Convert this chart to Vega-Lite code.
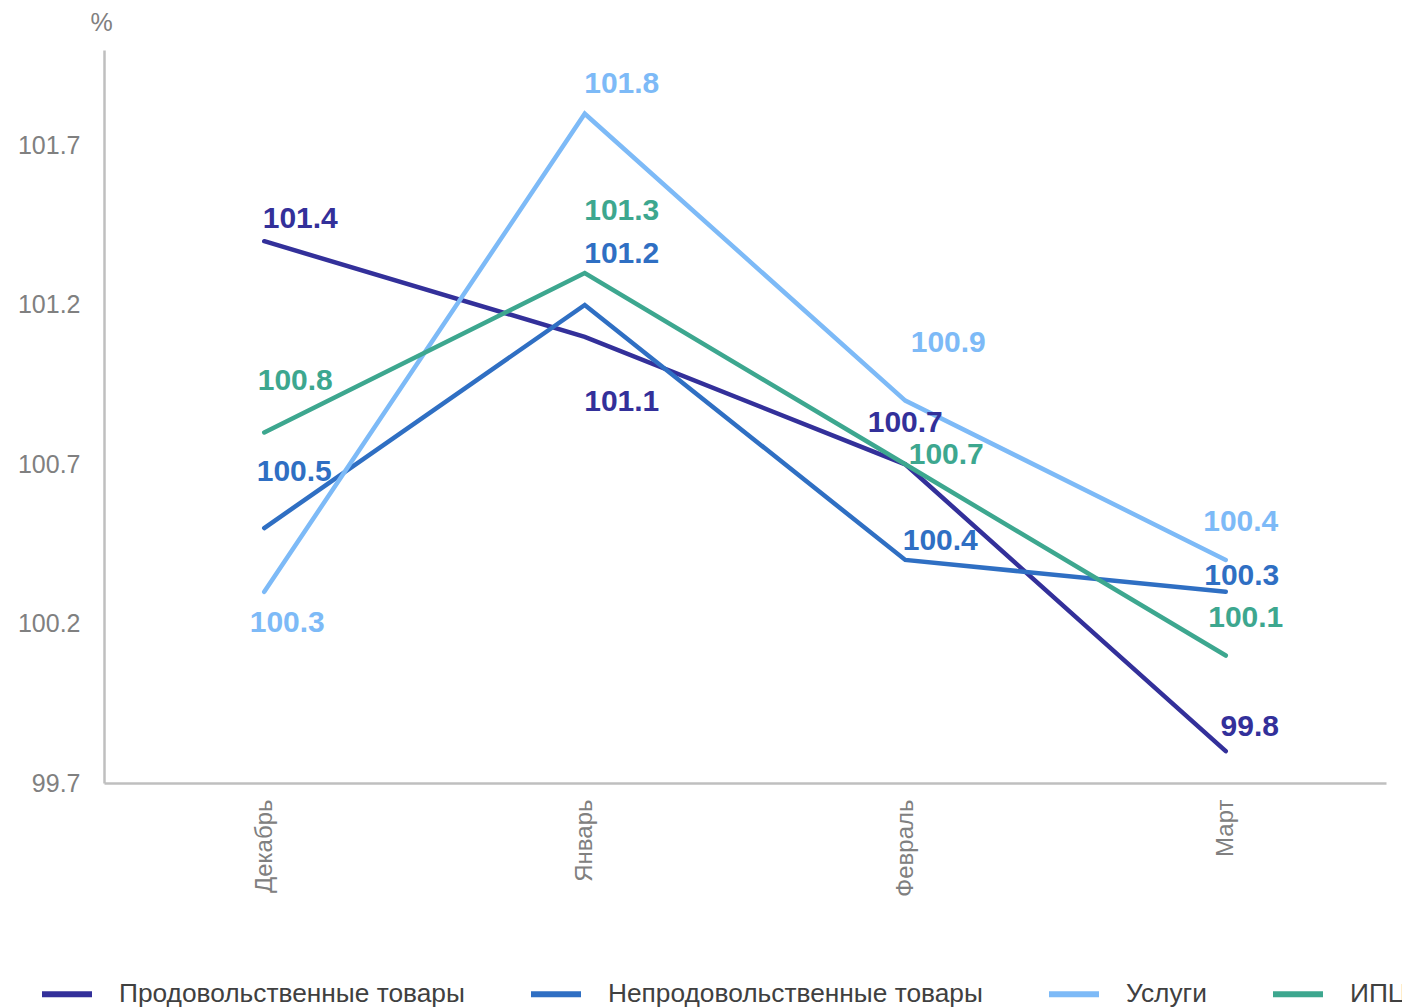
{
  "$schema": "https://vega.github.io/schema/vega-lite/v6.json",
  "autosize": "none",
  "width": 1282,
  "height": 733,
  "padding": {"left": 104, "top": 50, "right": 16, "bottom": 224},
  "background": "white",
  "config": {
    "font": "Liberation Sans",
    "view": {"stroke": null},
    "axis": {"grid": false, "ticks": false, "domainColor": "#BFBFBF", "domainWidth": 2.5, "labelColor": "#808080", "labelFont": "Liberation Sans", "titleColor": "#808080", "titleFont": "Liberation Sans"}
  },
  "data": {
    "values": [
      {"month": "Декабрь", "series": "Продовольственные товары", "value": 101.4},
      {"month": "Январь", "series": "Продовольственные товары", "value": 101.1},
      {"month": "Февраль", "series": "Продовольственные товары", "value": 100.7},
      {"month": "Март", "series": "Продовольственные товары", "value": 99.8},
      {"month": "Декабрь", "series": "Непродовольственные товары", "value": 100.5},
      {"month": "Январь", "series": "Непродовольственные товары", "value": 101.2},
      {"month": "Февраль", "series": "Непродовольственные товары", "value": 100.4},
      {"month": "Март", "series": "Непродовольственные товары", "value": 100.3},
      {"month": "Декабрь", "series": "Услуги", "value": 100.3},
      {"month": "Январь", "series": "Услуги", "value": 101.8},
      {"month": "Февраль", "series": "Услуги", "value": 100.9},
      {"month": "Март", "series": "Услуги", "value": 100.4},
      {"month": "Декабрь", "series": "ИПЦ", "value": 100.8},
      {"month": "Январь", "series": "ИПЦ", "value": 101.3},
      {"month": "Февраль", "series": "ИПЦ", "value": 100.7},
      {"month": "Март", "series": "ИПЦ", "value": 100.1}
    ]
  },
  "encoding": {
    "x": {
      "field": "month", "type": "nominal",
      "sort": ["Декабрь", "Январь", "Февраль", "Март"],
      "scale": {"type": "point", "padding": 0.5},
      "axis": {"title": null, "labelAngle": -90, "labelFontSize": 24, "labelPadding": 16, "labelAlign": "right", "labelBaseline": "middle"}
    },
    "y": {
      "field": "value", "type": "quantitative",
      "scale": {"domain": [99.7, 102.0], "nice": false, "zero": false},
      "axis": {"values": [99.7, 100.2, 100.7, 101.2, 101.7], "format": ".1f", "labelFontSize": 25, "labelPadding": 24,
        "title": "%", "titleAngle": 0, "titleFontSize": 25, "titleFontWeight": "normal", "titleX": -3, "titleY": -28, "titleAlign": "center", "titleBaseline": "middle"}
    },
    "color": {
      "field": "series", "type": "nominal",
      "scale": {"domain": ["Продовольственные товары", "Непродовольственные товары", "Услуги", "ИПЦ"], "range": ["#33309A", "#2F6FC3", "#7DBAF7", "#3DA78F"]},
      "legend": {"title": null, "orient": "none", "direction": "horizontal", "columns": 4, "legendX": -65, "legendY": 916,
        "symbolType": "stroke", "symbolSize": 2500, "symbolStrokeWidth": 6, "labelFontSize": 26.3, "labelColor": "#404040", "labelOffset": 24, "columnPadding": 54, "labelLimit": 600, "padding": 0}
    }
  },
  "layer": [
    {"mark": {"type": "line", "strokeWidth": 4.5, "strokeCap": "round"}},
    {"transform": [{"filter": "datum.series == 'Продовольственные товары' && datum.month == 'Декабрь'"}], "mark": {"type": "text", "fontSize": 30, "fontWeight": "bold", "dx": 36, "dy": -22}, "encoding": {"text": {"field": "value", "format": ".1f"}}},
    {"transform": [{"filter": "datum.series == 'Продовольственные товары' && datum.month == 'Январь'"}], "mark": {"type": "text", "fontSize": 30, "fontWeight": "bold", "dx": 37, "dy": 65}, "encoding": {"text": {"field": "value", "format": ".1f"}}},
    {"transform": [{"filter": "datum.series == 'Продовольственные товары' && datum.month == 'Февраль'"}], "mark": {"type": "text", "fontSize": 30, "fontWeight": "bold", "dx": 0, "dy": -41}, "encoding": {"text": {"field": "value", "format": ".1f"}}},
    {"transform": [{"filter": "datum.series == 'Продовольственные товары' && datum.month == 'Март'"}], "mark": {"type": "text", "fontSize": 30, "fontWeight": "bold", "dx": 24, "dy": -24}, "encoding": {"text": {"field": "value", "format": ".1f"}}},
    {"transform": [{"filter": "datum.series == 'Непродовольственные товары' && datum.month == 'Декабрь'"}], "mark": {"type": "text", "fontSize": 30, "fontWeight": "bold", "dx": 30, "dy": -56}, "encoding": {"text": {"field": "value", "format": ".1f"}}},
    {"transform": [{"filter": "datum.series == 'Непродовольственные товары' && datum.month == 'Январь'"}], "mark": {"type": "text", "fontSize": 30, "fontWeight": "bold", "dx": 37, "dy": -51}, "encoding": {"text": {"field": "value", "format": ".1f"}}},
    {"transform": [{"filter": "datum.series == 'Непродовольственные товары' && datum.month == 'Февраль'"}], "mark": {"type": "text", "fontSize": 30, "fontWeight": "bold", "dx": 35, "dy": -19}, "encoding": {"text": {"field": "value", "format": ".1f"}}},
    {"transform": [{"filter": "datum.series == 'Непродовольственные товары' && datum.month == 'Март'"}], "mark": {"type": "text", "fontSize": 30, "fontWeight": "bold", "dx": 16, "dy": -16}, "encoding": {"text": {"field": "value", "format": ".1f"}}},
    {"transform": [{"filter": "datum.series == 'Услуги' && datum.month == 'Декабрь'"}], "mark": {"type": "text", "fontSize": 30, "fontWeight": "bold", "dx": 23, "dy": 31}, "encoding": {"text": {"field": "value", "format": ".1f"}}},
    {"transform": [{"filter": "datum.series == 'Услуги' && datum.month == 'Январь'"}], "mark": {"type": "text", "fontSize": 30, "fontWeight": "bold", "dx": 37, "dy": -30}, "encoding": {"text": {"field": "value", "format": ".1f"}}},
    {"transform": [{"filter": "datum.series == 'Услуги' && datum.month == 'Февраль'"}], "mark": {"type": "text", "fontSize": 30, "fontWeight": "bold", "dx": 43, "dy": -58}, "encoding": {"text": {"field": "value", "format": ".1f"}}},
    {"transform": [{"filter": "datum.series == 'Услуги' && datum.month == 'Март'"}], "mark": {"type": "text", "fontSize": 30, "fontWeight": "bold", "dx": 15, "dy": -38}, "encoding": {"text": {"field": "value", "format": ".1f"}}},
    {"transform": [{"filter": "datum.series == 'ИПЦ' && datum.month == 'Декабрь'"}], "mark": {"type": "text", "fontSize": 30, "fontWeight": "bold", "dx": 31, "dy": -51}, "encoding": {"text": {"field": "value", "format": ".1f"}}},
    {"transform": [{"filter": "datum.series == 'ИПЦ' && datum.month == 'Январь'"}], "mark": {"type": "text", "fontSize": 30, "fontWeight": "bold", "dx": 37, "dy": -62}, "encoding": {"text": {"field": "value", "format": ".1f"}}},
    {"transform": [{"filter": "datum.series == 'ИПЦ' && datum.month == 'Февраль'"}], "mark": {"type": "text", "fontSize": 30, "fontWeight": "bold", "dx": 41, "dy": -9}, "encoding": {"text": {"field": "value", "format": ".1f"}}},
    {"transform": [{"filter": "datum.series == 'ИПЦ' && datum.month == 'Март'"}], "mark": {"type": "text", "fontSize": 30, "fontWeight": "bold", "dx": 20, "dy": -38}, "encoding": {"text": {"field": "value", "format": ".1f"}}}
  ]
}
